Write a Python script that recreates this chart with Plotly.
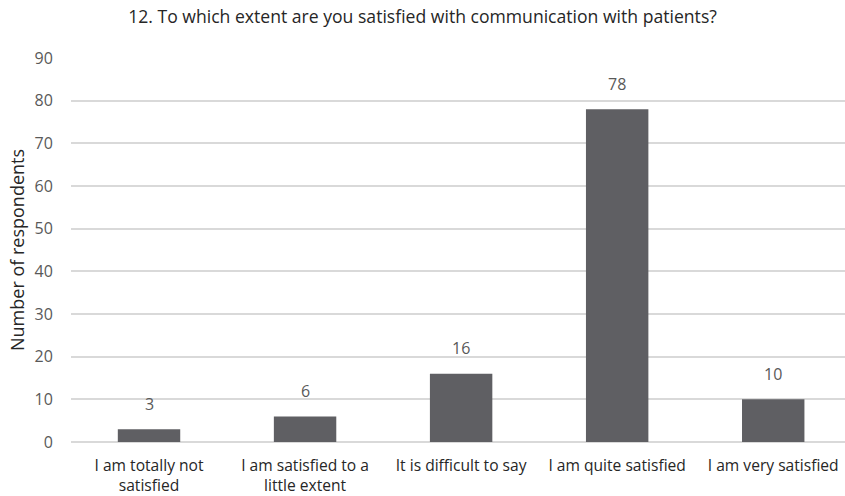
import plotly.graph_objects as go

categories = ["I am totally not<br>satisfied", "I am satisfied to a<br>little extent",
              "It is difficult to say", "I am quite satisfied", "I am very satisfied"]
values = [3, 6, 16, 78, 10]
y_ticks = [0, 10, 20, 30, 40, 50, 60, 70, 80, 90]

font_family = "Open Sans, Lato, sans-serif"
text_color = "#595959"
dark_text = "#262626"
W, H = 845, 496
L, R, T, B = 71, 0, 58, 54

fig = go.Figure()
fig.add_trace(go.Bar(x=categories, y=values, marker=dict(color="#5f5f63", line=dict(width=0)),
                     hoverinfo="skip"))

for c, v in zip(categories, values):
    fig.add_annotation(x=c, y=v, text=str(v), showarrow=False, yshift=25.5,
                       font=dict(size=16, color=text_color, family=font_family))

fig.add_annotation(text="Number of respondents", xref="paper", yref="paper",
                   x=(17 - L) / (W - L - R), y=0.5, textangle=-90, showarrow=False,
                   xanchor="center", yanchor="middle",
                   font=dict(size=18, color=dark_text, family=font_family))

fig.update_layout(
    width=W, height=H,
    margin=dict(l=L, r=R, t=T, b=B),
    paper_bgcolor="white", plot_bgcolor="white",
    bargap=0.6,
    showlegend=False,
    title=dict(text="12. To which extent are you satisfied with communication with patients?",
               x=0.5, xanchor="center", y=1 - 17 / H, yanchor="middle",
               font=dict(size=17.6, color=dark_text, family=font_family)),
    font=dict(family=font_family, size=16, color=text_color),
)
fig.update_xaxes(range=[-0.5, 4.46], showgrid=False, showline=False, automargin=False,
                 ticks="outside", ticklen=9, tickcolor="rgba(0,0,0,0)",
                 tickfont=dict(size=15.6, color=dark_text))
fig.update_yaxes(range=[0, 90], tickvals=y_ticks, showgrid=True, gridcolor="#d9d9d9", gridwidth=1.5,
                 zeroline=True, zerolinecolor="#d9d9d9", zerolinewidth=1.5, automargin=False,
                 ticks="outside", ticklen=14, tickcolor="rgba(0,0,0,0)",
                 tickfont=dict(size=16, color=text_color))

fig.write_html("out.html", config={"displayModeBar": False},
               post_script="document.body.style.margin='0';")
